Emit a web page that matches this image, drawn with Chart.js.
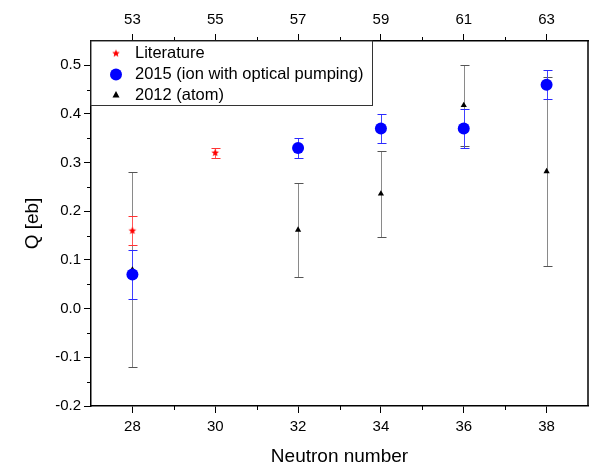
<!DOCTYPE html>
<html>
<head>
<meta charset="utf-8">
<script src="https://cdn.jsdelivr.net/npm/chart.js@4/dist/chart.umd.min.js"></script>
<style>
  html, body { margin: 0; padding: 0; background: #fff; }
  #wrap { width: 594px; height: 465px; }
</style>
</head>
<body>
<div id="wrap"><canvas id="chart"></canvas></div>
<script>
// Literature values
const litN = [28, 30];
const litQ = [0.16, 0.32];
const litErr = [0.03, 0.01];
// 2015 (ion with optical pumping)
const ionN = [28, 32, 34, 36, 38];
const ionQ = [0.07, 0.33, 0.37, 0.37, 0.46];
const ionErr = [0.05, 0.02, 0.03, 0.04, 0.03];
// 2012 (atom)
const atomN = [28, 32, 34, 36, 38];
const atomQ = [0.08, 0.162, 0.236, 0.418, 0.282];
const atomErr = [0.2, 0.097, 0.089, 0.083, 0.195];
// axis ticks
const neutronTicks = [28, 30, 32, 34, 36, 38];
const massTicks = [53, 55, 57, 59, 61, 63];
const qTicks = [-0.2, -0.1, 0.0, 0.1, 0.2, 0.3, 0.4, 0.5];

const FONT = "'Liberation Sans', Arial, sans-serif";
Chart.defaults.font.family = FONT;
Chart.defaults.color = '#000';

// small filled star for the literature points
function makeStar(r, color) {
  const c = document.createElement('canvas');
  c.width = c.height = r * 2 + 2;
  const g = c.getContext('2d');
  g.fillStyle = color;
  g.beginPath();
  for (let i = 0; i < 10; i++) {
    const rad = i % 2 ? r * 0.45 : r;
    const a = -Math.PI / 2 + i * Math.PI / 5;
    g.lineTo(c.width / 2 + rad * Math.cos(a), c.height / 2 + rad * Math.sin(a));
  }
  g.closePath();
  g.fill();
  return c;
}
const star = makeStar(4, '#ff0000');

const pts = (xs, ys) => xs.map((x, i) => ({ x: x, y: ys[i] }));

const setTicks = vals => s => { s.ticks = vals.map(v => ({ value: v })); };

function minorOf(vals) {
  const step = vals[1] - vals[0];
  const out = [];
  vals.forEach(v => out.push(v + step / 2));
  out.unshift(vals[0] - step / 2);
  return out;
}

const extras = {
  id: 'extras',
  beforeDatasetsDraw(chart) {
    const ctx = chart.ctx, xs = chart.scales.x, ys = chart.scales.y;
    ctx.save();
    ctx.lineWidth = 1;
    for (let i = chart.data.datasets.length - 1; i >= 0; i--) {
      const ds = chart.data.datasets[i];
      ds.data.forEach((p, k) => {
        const e = ds.errors[k];
        const px = Math.round(xs.getPixelForValue(p.x)) + 0.5;
        const top = Math.round(ys.getPixelForValue(p.y + e)) + 0.5;
        const bot = Math.round(ys.getPixelForValue(p.y - e)) + 0.5;
        ctx.strokeStyle = ds.barColor;
        ctx.beginPath();
        ctx.moveTo(px, top); ctx.lineTo(px, bot);
        ctx.stroke();
        ctx.strokeStyle = ds.capColor;
        ctx.beginPath();
        ctx.moveTo(px - 4, top); ctx.lineTo(px + 5, top);
        ctx.moveTo(px - 4, bot); ctx.lineTo(px + 5, bot);
        ctx.stroke();
      });
    }
    ctx.restore();
  },
  afterDraw(chart) {
    const ctx = chart.ctx, a = chart.chartArea;
    const xs = chart.scales.x, x2 = chart.scales.x2, ys = chart.scales.y;
    ctx.save();
    ctx.strokeStyle = '#000';
    ctx.lineWidth = 1.5;
    ctx.beginPath();
    ctx.moveTo(a.right, a.top); ctx.lineTo(a.right, a.bottom);
    ctx.stroke();
    // minor ticks
    ctx.lineWidth = 1;
    ctx.beginPath();
    minorOf(neutronTicks).forEach(v => {
      if (v <= xs.min || v >= xs.max) return;
      const p = Math.round(xs.getPixelForValue(v)) + 0.5;
      ctx.moveTo(p, a.bottom); ctx.lineTo(p, a.bottom + 4);
    });
    minorOf(massTicks).forEach(v => {
      if (v <= x2.min || v >= x2.max) return;
      const p = Math.round(x2.getPixelForValue(v)) + 0.5;
      ctx.moveTo(p, a.top); ctx.lineTo(p, a.top - 4);
    });
    minorOf(qTicks).forEach(v => {
      if (v <= ys.min || v >= ys.max) return;
      const p = Math.round(ys.getPixelForValue(v)) + 0.5;
      ctx.moveTo(a.left, p); ctx.lineTo(a.left - 4, p);
    });
    ctx.stroke();

    // legend box
    const L = a.left, T = a.top, R = 372.5, B = 105.5;
    ctx.fillStyle = '#fff';
    ctx.fillRect(L, T, R - L, B - T);
    ctx.strokeStyle = '#333';
    ctx.lineWidth = 1;
    ctx.strokeRect(L, T, R - L, B - T);
    ctx.font = '16.5px ' + FONT;
    ctx.fillStyle = '#000';
    ctx.textBaseline = 'middle';
    const sx = 116, tx = 135;
    const rows = [53.5, 74.5, 95];
    chart.data.datasets.forEach((ds, i) => {
      const y = rows[i];
      if (ds.legendShape === 'star') {
        ctx.drawImage(star, sx - star.width / 2, y - star.height / 2);
      } else if (ds.legendShape === 'circle') {
        ctx.fillStyle = '#0000ff';
        ctx.beginPath(); ctx.arc(sx, y, 6, 0, Math.PI * 2); ctx.fill();
      } else {
        ctx.fillStyle = '#000';
        ctx.beginPath();
        ctx.moveTo(sx, y - 4); ctx.lineTo(sx + 3.5, y + 2.5); ctx.lineTo(sx - 3.5, y + 2.5);
        ctx.closePath(); ctx.fill();
      }
      ctx.fillStyle = '#000';
      ctx.fillText(ds.label, tx, y);
    });
    ctx.restore();
  }
};

new Chart(document.getElementById('chart').getContext('2d'), {
  type: 'scatter',
  data: {
    datasets: [{
      label: 'Literature',
      data: pts(litN, litQ),
      errors: litErr,
      barColor: '#ff5555',
      capColor: '#ff3333',
      legendShape: 'star',
      pointStyle: star,
      pointRadius: 4
    }, {
      label: '2015 (ion with optical pumping)',
      data: pts(ionN, ionQ),
      errors: ionErr,
      barColor: '#4040ff',
      capColor: '#2a2aff',
      legendShape: 'circle',
      pointStyle: 'circle',
      pointRadius: 6,
      backgroundColor: '#0000ff',
      borderWidth: 0
    }, {
      label: '2012 (atom)',
      data: pts(atomN, atomQ),
      errors: atomErr,
      barColor: '#8a8a8a',
      capColor: '#555555',
      legendShape: 'triangle',
      pointStyle: 'triangle',
      pointRadius: 3.6,
      backgroundColor: '#000',
      borderColor: '#000',
      borderWidth: 0
    }]
  },
  options: {
    responsive: true,
    maintainAspectRatio: false,
    animation: false,
    layout: { padding: { left: 17, right: 3, top: 0, bottom: 0 } },
    plugins: { legend: { display: false }, tooltip: { enabled: false } },
    scales: {
      x: {
        type: 'linear', position: 'bottom', min: 27, max: 39,
        afterBuildTicks: setTicks(neutronTicks),
        afterFit: s => { s.height = 59; },
        ticks: { autoSkip: false, maxRotation: 0, padding: 5, font: { size: 15 } },
        grid: { drawOnChartArea: false, tickLength: 7, color: '#000' },
        border: { color: '#000', width: 1.5 },
        title: { display: true, text: 'Neutron number', font: { size: 19, lineHeight: 1 }, padding: { top: 0, bottom: -1 } }
      },
      x2: {
        type: 'linear', position: 'top', min: 52, max: 64,
        afterBuildTicks: setTicks(massTicks),
        afterFit: s => { s.height = 41; },
        ticks: { autoSkip: false, maxRotation: 0, padding: 5, font: { size: 15 } },
        grid: { drawOnChartArea: false, tickLength: 7, color: '#000' },
        border: { color: '#000', width: 1.5 }
      },
      y: {
        type: 'linear', min: -0.2, max: 0.55,
        afterBuildTicks: setTicks(qTicks),
        afterFit: s => { s.width = 74; },
        ticks: { autoSkip: false, padding: 3, font: { size: 15 }, callback: v => v.toFixed(1) },
        grid: { drawOnChartArea: false, tickLength: 7, color: '#000' },
        border: { color: '#000', width: 1.5 },
        title: { display: true, text: 'Q [eb]', font: { size: 19 }, padding: { top: 4, bottom: 4 } }
      }
    }
  },
  plugins: [extras]
});
</script>
</body>
</html>
